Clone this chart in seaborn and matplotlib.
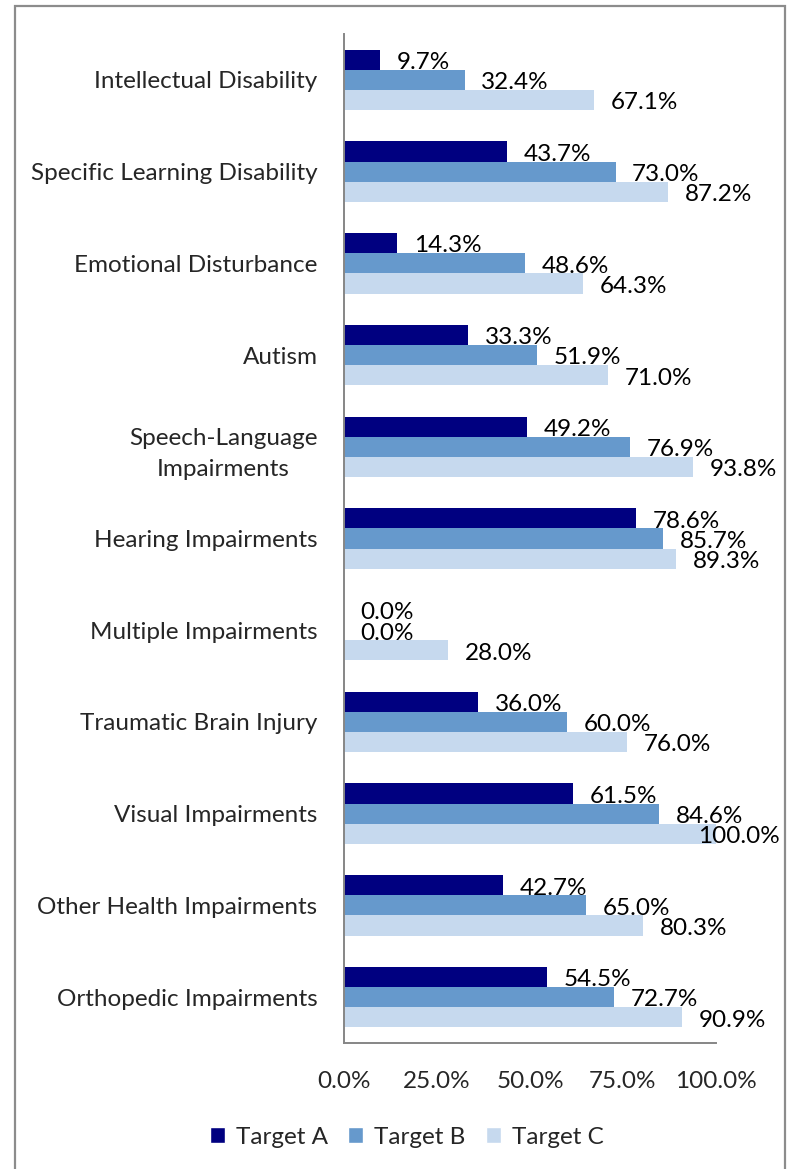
import pandas as pd
import numpy as np
import matplotlib
matplotlib.use("Agg")
import matplotlib.pyplot as plt
import seaborn as sns
from matplotlib.patches import Rectangle

categories = ["Intellectual Disability", "Specific Learning Disability",
              "Emotional Disturbance", "Autism", "Speech-Language\nImpairments",
              "Hearing Impairments", "Multiple Impairments", "Traumatic Brain Injury",
              "Visual Impairments", "Other Health Impairments", "Orthopedic Impairments"]
target_a = [9.7, 43.7, 14.3, 33.3, 49.2, 78.6, 0.0, 36.0, 61.5, 42.7, 54.5]
target_b = [32.4, 73.0, 48.6, 51.9, 76.9, 85.7, 0.0, 60.0, 84.6, 65.0, 72.7]
target_c = [67.1, 87.2, 64.3, 71.0, 93.8, 89.3, 28.0, 76.0, 100.0, 80.3, 90.9]
series = ["Target A", "Target B", "Target C"]
colors = ["#000080", "#6699CC", "#C6D9EE"]
xticks = [0, 25, 50, 75, 100]

FS = 17.5

# long format for seaborn
df = pd.DataFrame({
    "cat": categories * 3,
    "target": [s for s in series for _ in categories],
    "value": target_a + target_b + target_c,
})

sns.set_style("white")
plt.rcParams["font.family"] = ["Lato", "DejaVu Sans"]

fig = plt.figure(figsize=(7.93, 11.69), dpi=100)
ax = fig.add_axes([344/793, 1 - 1043/1169, (716 - 344)/793, (1043 - 34)/1169])

sns.barplot(data=df, y="cat", x="value", hue="target", orient="h",
            palette=colors, width=0.66, saturation=1, linewidth=0,
            legend=False, ax=ax)

# value labels just past the bar end; labels that would run out of the box are pulled back
for cont in ax.containers:
    for bar in cont:
        v = bar.get_width()
        yc = bar.get_y() + bar.get_height() / 2
        txt = f"{v:.1f}%"
        if v >= 95:
            ax.annotate(txt, ((780 - 344) / 372, yc), xycoords=("axes fraction", "data"),
                        xytext=(0, -2), textcoords="offset points", ha="right",
                        va="center", fontsize=FS, color="#000000", annotation_clip=False)
        else:
            ax.annotate(txt, (v, yc), xytext=(12, -2), textcoords="offset points",
                        ha="left", va="center", fontsize=FS, color="#000000",
                        annotation_clip=False)

ax.set_xlim(0, 100)
ax.set_ylim(len(categories) - 0.5, -0.5)
ax.set_xlabel("")
ax.set_ylabel("")
ax.set_xticks(xticks)
ax.set_xticklabels([f"{t:.1f}%" for t in xticks], fontsize=FS)
ax.set_yticks(range(len(categories)))
ax.set_yticklabels(categories, fontsize=FS, multialignment="center", linespacing=1.6)
ax.set_yticks(np.arange(-0.5, len(categories)), minor=True)
ax.tick_params(axis="y", which="major", length=0, pad=19)
ax.tick_params(axis="y", which="minor", length=5, width=1.4, color="#868686")
ax.tick_params(axis="x", length=5, width=1.4, color="#868686", pad=15, direction="out")

for s in ["top", "right"]:
    ax.spines[s].set_visible(False)
for s in ["left", "bottom"]:
    ax.spines[s].set_color("#868686")
    ax.spines[s].set_linewidth(1.4)

handles = [Rectangle((0, 0), 1, 1, facecolor=c) for c in colors]
fig.legend(handles, series, loc="center", bbox_to_anchor=(0.513, 1 - 1137/1169),
           ncol=3, frameon=False, fontsize=FS, handlelength=0.6, handleheight=0.6,
           handletextpad=0.45, columnspacing=0.85)

fig.patches.append(Rectangle((15/793, -0.05), 770/793, 0.05 + 1 - 6/1169,
                             transform=fig.transFigure, fill=False,
                             edgecolor="#8c8c8c", linewidth=1.6))

fig.savefig("out.png", dpi=100)
